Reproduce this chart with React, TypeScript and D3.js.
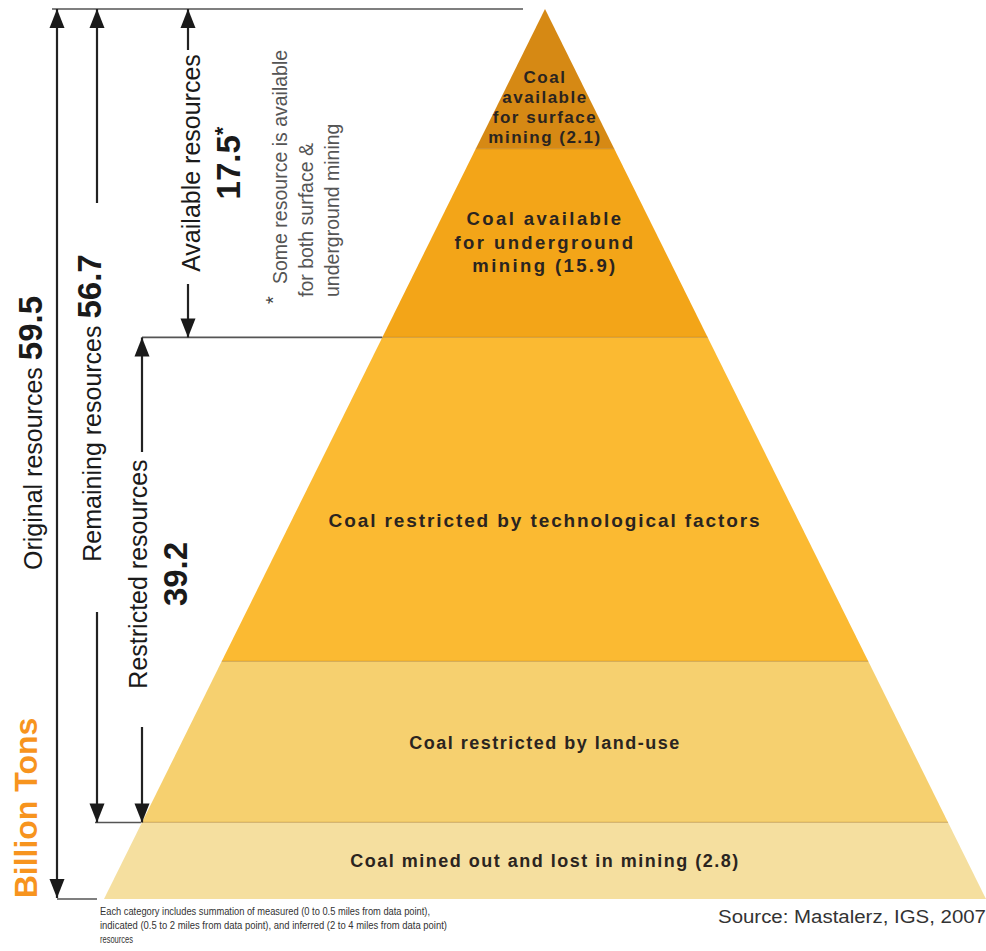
import React from "react";
import * as d3 from "d3";

// ---- data ----
const bandLabels: string[][] = [
  ["Coal", "available", "for surface", "mining (2.1)"],
  ["Coal available", "for underground", "mining (15.9)"],
  ["Coal restricted by technological factors"],
  ["Coal restricted by land-use"],
  ["Coal mined out and lost in mining (2.8)"],
];
// schematic depth (0 = apex, 1 = base) of each band boundary
const bandBreaks = [0, 0.157, 0.369, 0.733, 0.914, 1];
const bandLabelDepth = [0.11, 0.262, 0.574, 0.824, 0.957];
const bandColors = ["#D68914", "#F3A518", "#FBBA32", "#F6D06F", "#F5DF9F"];

const totalNames = ["Original resources", "Remaining resources", "Available resources", "Restricted resources"];
const totalValues = ["59.5", "56.7", "17.5", "39.2"];
const totalFrom = [0, 0, 0, 2];
const totalTo = [5, 4, 2, 4];

const unitLabel = "Billion Tons";
const footnoteLines = ["Some resource is available", "for both surface &", "underground mining"];
const footerLines = [
  "Each category includes summation of measured (0 to 0.5 miles from data point),",
  "indicated (0.5 to 2 miles from data point), and inferred (2 to 4 miles from data point)",
  "resources",
];
const sourceText = "Source: Mastalerz, IGS, 2007";

// ---- layout ----
const W = 986;
const H = 951;
const CX = 545;
const APEX_Y = 9;
const BASE_Y = 899;
const HALF_BASE = 441;
const FONT = "'Liberation Sans', Arial, Helvetica, sans-serif";

const y = d3.scaleLinear().domain([0, 1]).range([APEX_Y, BASE_Y]);
const hw = d3.scaleLinear().domain([0, 1]).range([0, HALF_BASE]);

// per-label text styling
const labelStyle = [
  { fs: 17, ls: 1.5, lh: 20 },
  { fs: 18.5, ls: 2.4, lh: 23.5 },
  { fs: 19, ls: 1.9, lh: 23 },
  { fs: 18, ls: 1.5, lh: 23 },
  { fs: 18, ls: 1.5, lh: 23 },
];

// bracket layout per total: x of arrow line, gap in line for text, text placement
const bracketLayout = [
  { x: 57, gap: null as null | [number, number], nameX: 42, valueX: null as null | number, cy: 433, inline: true },
  { x: 97, gap: [203, 612] as [number, number], nameX: 101, valueX: null, cy: 408, inline: true },
  { x: 188, gap: [50, 284] as [number, number], nameX: 200, valueX: 240, cy: 163, inline: false },
  { x: 142, gap: [452, 727] as [number, number], nameX: 147, valueX: 187, cy: 574, inline: false },
];

function arrowHead(x: number, tipY: number, dir: 1 | -1) {
  // dir = -1 points up, 1 points down
  const L = 19;
  const w = 7.5;
  const by = tipY - dir * L;
  return `M${x},${tipY} L${x - w},${by} L${x + w},${by} Z`;
}

export default function App() {
  const line = d3.line<[number, number]>();

  const bands = bandColors.map((c, i) => {
    const a = bandBreaks[i];
    const b = bandBreaks[i + 1];
    const pts: [number, number][] = [
      [CX - hw(a), y(a)],
      [CX + hw(a), y(a)],
      [CX + hw(b), y(b)],
      [CX - hw(b), y(b)],
    ];
    return { c, d: line(pts) + "Z", a, b };
  });

  const guide = (depth: number, x0: number, endGap: number) => {
    const yy = y(depth);
    const x1 = CX - hw(depth) - endGap;
    return <line x1={x0} x2={x1} y1={yy} y2={yy} stroke="#555" strokeWidth={1.6} />;
  };

  return (
    <svg width={W} height={H} style={{ position: "absolute", left: 0, top: 0, background: "#fff" }} fontFamily={FONT}>
      <rect x={0} y={0} width={W} height={H} fill="#fff" />
      {/* pyramid bands */}
      {bands.map((b, i) => (
        <path key={i} d={b.d} fill={b.c} />
      ))}
      {bandBreaks.slice(1, -1).map((d, i) => (
        <line key={i} x1={CX - hw(d)} x2={CX + hw(d)} y1={y(d)} y2={y(d)} stroke="rgba(150,95,10,0.35)" strokeWidth={1.2} />
      ))}
      {/* band labels */}
      {bandLabels.map((lines, i) => {
        const st = labelStyle[i];
        const cy = y(bandLabelDepth[i]);
        const y0 = cy - ((lines.length - 1) * st.lh) / 2;
        return (
          <text key={i} textAnchor="middle" fontWeight="bold" fontSize={st.fs} fill="#2a2420" letterSpacing={st.ls}>
            {lines.map((l, j) => (
              <tspan key={j} x={CX} y={y0 + j * st.lh} dy="0.35em">
                {l}
              </tspan>
            ))}
          </text>
        );
      })}

      {/* guide lines */}
      {guide(0, 52, 22)}
      {guide(bandBreaks[2], 142, 0)}
      {guide(bandBreaks[4], 95, 1)}
      {guide(1, 57, 7)}

      {/* brackets */}
      {totalNames.map((name, i) => {
        const L = bracketLayout[i];
        const top = y(bandBreaks[totalFrom[i]]);
        const bot = y(bandBreaks[totalTo[i]]) - (totalTo[i] === 5 ? 1 : 0);
        const segs: [number, number][] = L.gap ? [[top, L.gap[0]], [L.gap[1], bot]] : [[top, bot]];
        return (
          <g key={i}>
            {segs.map((s, j) => (
              <line key={j} x1={L.x} x2={L.x} y1={s[0]} y2={s[1]} stroke="#222" strokeWidth={2.2} />
            ))}
            <path d={arrowHead(L.x, top, -1)} fill="#1a1a1a" />
            <path d={arrowHead(L.x, bot, 1)} fill="#1a1a1a" />
            {L.inline ? (
              <text transform={`translate(${L.nameX},${L.cy}) rotate(-90)`} textAnchor="middle" fill="#1a1a1a" fontSize={25}>
                {name + " "}
                <tspan fontWeight="bold" fontSize={33}>
                  {totalValues[i]}
                </tspan>
              </text>
            ) : (
              <g>
                <text transform={`translate(${L.nameX},${L.cy}) rotate(-90)`} textAnchor="middle" fill="#1a1a1a" fontSize={25}>
                  {name}
                </text>
                <text transform={`translate(${L.valueX},${L.cy}) rotate(-90)`} textAnchor="middle" fill="#1a1a1a" fontSize={33} fontWeight="bold">
                  {totalValues[i]}
                  {i === 2 ? (
                    <tspan fontSize={22} dy={-10}>
                      *
                    </tspan>
                  ) : null}
                </text>
              </g>
            )}
          </g>
        );
      })}

      {/* footnote */}
      <text transform={`translate(280,304) rotate(-90)`} fontSize={20} fill="#444">
        *
      </text>
      {footnoteLines.map((l, i) => (
        <text key={i} transform={`translate(${287 + i * 26},${i === 0 ? 284 : 297}) rotate(-90)`} fontSize={19.5} fill="#555">
          {l}
        </text>
      ))}

      {/* unit */}
      <text transform={`translate(37,808) rotate(-90)`} textAnchor="middle" fontSize={32} fontWeight="bold" fill="#F7941E">
        {unitLabel}
      </text>

      {/* footer */}
      {footerLines.map((l, i) => (
        <text
          key={i}
          x={100}
          y={915 + i * 14}
          fontSize={11}
          fill="#333"
          textLength={i === 0 ? 330 : i === 1 ? 347 : 33}
          lengthAdjust="spacingAndGlyphs"
        >
          {l}
        </text>
      ))}
      <text x={718} y={923} fontSize={17.5} fill="#333" textLength={268} lengthAdjust="spacingAndGlyphs">
        {sourceText}
      </text>
    </svg>
  );
}
